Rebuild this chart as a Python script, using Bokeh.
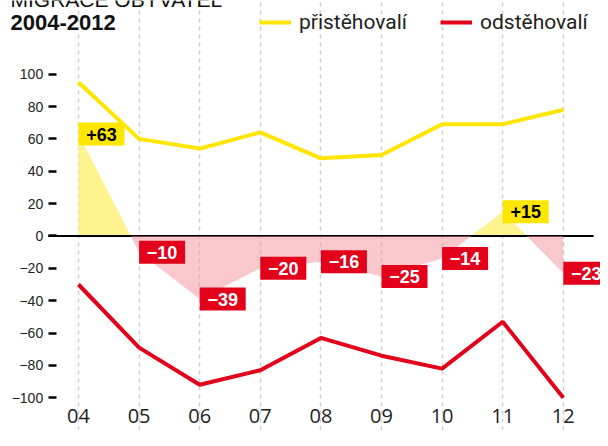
from bokeh.plotting import figure
from bokeh.models import Range1d, FixedTicker, Label, Legend, LegendItem, ColumnDataSource
from bokeh.core.properties import value
from bokeh.embed import file_html
from bokeh.resources import INLINE
import numpy as np

# ---- data ----
years = ["04", "05", "06", "07", "08", "09", "10", "11", "12"]
pristehovali = [95, 60, 54, 64, 48, 50, 69, 69, 78]
odstehovali = [-30, -69, -92, -83, -63, -74, -82, -53, -100]
saldo = [63, -10, -39, -20, -16, -25, -14, 15, -23]
y_ticks = [-100, -80, -60, -40, -20, 0, 20, 40, 60, 80, 100]
title_top = "MIGRACE OBYVATEL"
title_sub = "2004-2012"
legend_labels = ["přistěhovalí", "odstěhovalí"]

YELLOW = "#ffe600"
RED = "#e2001a"

# ---- layout (canvas pixels) ----
W, H = 600, 430
STEP = 60.6                   # px between categories
X0 = 78                       # px of first category
GRID_TOP, GRID_BOT = 62, 406  # px extent of the plotting area
y_lo, y_hi = -105.4, 107.2    # value extent of the plotting area
k = (GRID_BOT - GRID_TOP) / (y_hi - y_lo)
y_end = y_hi + GRID_TOP / k
y_start = y_lo - (H - GRID_BOT) / k
x_start = -X0 / STEP
x_end = x_start + W / STEP

p = figure(width=W, height=H, x_range=Range1d(x_start, x_end), y_range=Range1d(y_start, y_end),
           output_backend="svg", toolbar_location=None,
           min_border_left=0, min_border_right=0, min_border_top=0, min_border_bottom=0)
p.outline_line_color = None
p.background_fill_color = "white"
p.border_fill_color = "white"

xs = list(range(len(years)))

# axes drawn inside the frame
p.xaxis.fixed_location = y_lo
p.xaxis.ticker = FixedTicker(ticks=xs)
p.xaxis.major_label_overrides = {i: y for i, y in enumerate(years)}
p.xaxis.axis_line_color = None
p.xaxis.major_tick_line_color = None
p.xaxis.minor_tick_line_color = None
p.xaxis.major_tick_in = 0
p.xaxis.major_tick_out = 0
p.xaxis.major_label_standoff = 2
p.xaxis.major_label_text_font = "Open Sans"
p.xaxis.major_label_text_font_size = "20px"
p.xaxis.major_label_text_color = "#222222"

p.yaxis.fixed_location = xs[0] - 0.5
p.yaxis.ticker = FixedTicker(ticks=y_ticks)
p.yaxis.axis_line_color = None
p.yaxis.minor_tick_line_color = None
p.yaxis.major_tick_in = 8
p.yaxis.major_tick_out = 0
p.yaxis.major_tick_line_width = 2.5
p.yaxis.major_tick_line_color = "black"
p.yaxis.major_label_standoff = 5
p.yaxis.major_label_text_font = "Liberation Sans"
p.yaxis.major_label_text_font_size = "14px"
p.yaxis.major_label_text_color = "#222222"

p.ygrid.grid_line_color = None
p.xgrid.grid_line_color = "#cfcfcf"
p.xgrid.grid_line_dash = "4 4"
p.xgrid.grid_line_width = 1.5
p.xgrid.bounds = (y_lo, y_hi)

# ---- net area split at zero crossings ----
ax, ay = [], []
for i in range(len(saldo)):
    ax.append(xs[i]); ay.append(saldo[i])
    if i < len(saldo) - 1 and saldo[i] * saldo[i + 1] < 0:
        t = saldo[i] / (saldo[i] - saldo[i + 1])
        ax.append(xs[i] + t); ay.append(0)
ay = np.array(ay, dtype=float)
zeros = np.zeros_like(ay)

p.varea(x=ax, y1=zeros, y2=np.maximum(ay, 0), fill_color="#fff38f")
p.segment(x0=[xs[0] - 0.5], y0=[0], x1=[xs[-1] + 0.5], y1=[0], line_color="black", line_width=2)
p.varea(x=ax, y1=np.minimum(ay, 0), y2=zeros, fill_color="#f08a92", fill_alpha=0.47)

# ---- lines ----
yl = p.line(xs, pristehovali, line_color=YELLOW, line_width=4)
rl = p.line(xs, odstehovali, line_color=RED, line_width=4)

# ---- net value labels ----
box_w, box_h = 46, 23
half_w = (box_w / 2) / STEP
lab_src = ColumnDataSource(dict(
    x=[x + half_w for x in xs],
    y=saldo,
    text=[("+%d" % v) if v > 0 else ("\u2212%d" % abs(v)) for v in saldo],
    fill=[YELLOW if v > 0 else RED for v in saldo],
    tcol=["black" if v > 0 else "white" for v in saldo],
))
p.rect(x="x", y="y", width=box_w, height=box_h, width_units="screen", height_units="screen",
       fill_color="fill", line_color=None, source=lab_src)
p.text(x="x", y="y", text="text", text_color="tcol", text_align="center", text_baseline="middle",
       text_font=value("Liberation Sans"), text_font_style="bold", text_font_size="18px",
       source=lab_src)

# ---- titles (screen units measured from the frame's bottom-left) ----
p.add_layout(Label(x=10, y=H + 1, x_units="screen", y_units="screen", text=title_top,
                   text_font="Liberation Sans", text_font_size="21px", text_color="#111111",
                   text_baseline="alphabetic"))
p.add_layout(Label(x=10, y=H - 22, x_units="screen", y_units="screen", text=title_sub,
                   text_font="Liberation Sans", text_font_style="bold", text_font_size="22px",
                   text_color="#111111", text_baseline="alphabetic"))

legend = Legend(items=[LegendItem(label=legend_labels[0], renderers=[yl]),
                       LegendItem(label=legend_labels[1], renderers=[rl])],
                location=(259, H - 34), orientation="horizontal",
                glyph_width=32, glyph_height=20, label_standoff=8, spacing=33,
                padding=0, margin=0, border_line_color=None, background_fill_alpha=0,
                label_text_font="Roboto", label_text_font_size="21px", label_text_color="#222222",
                label_height=20)
p.add_layout(legend)

open("out.html", "w").write(file_html(p, INLINE))
